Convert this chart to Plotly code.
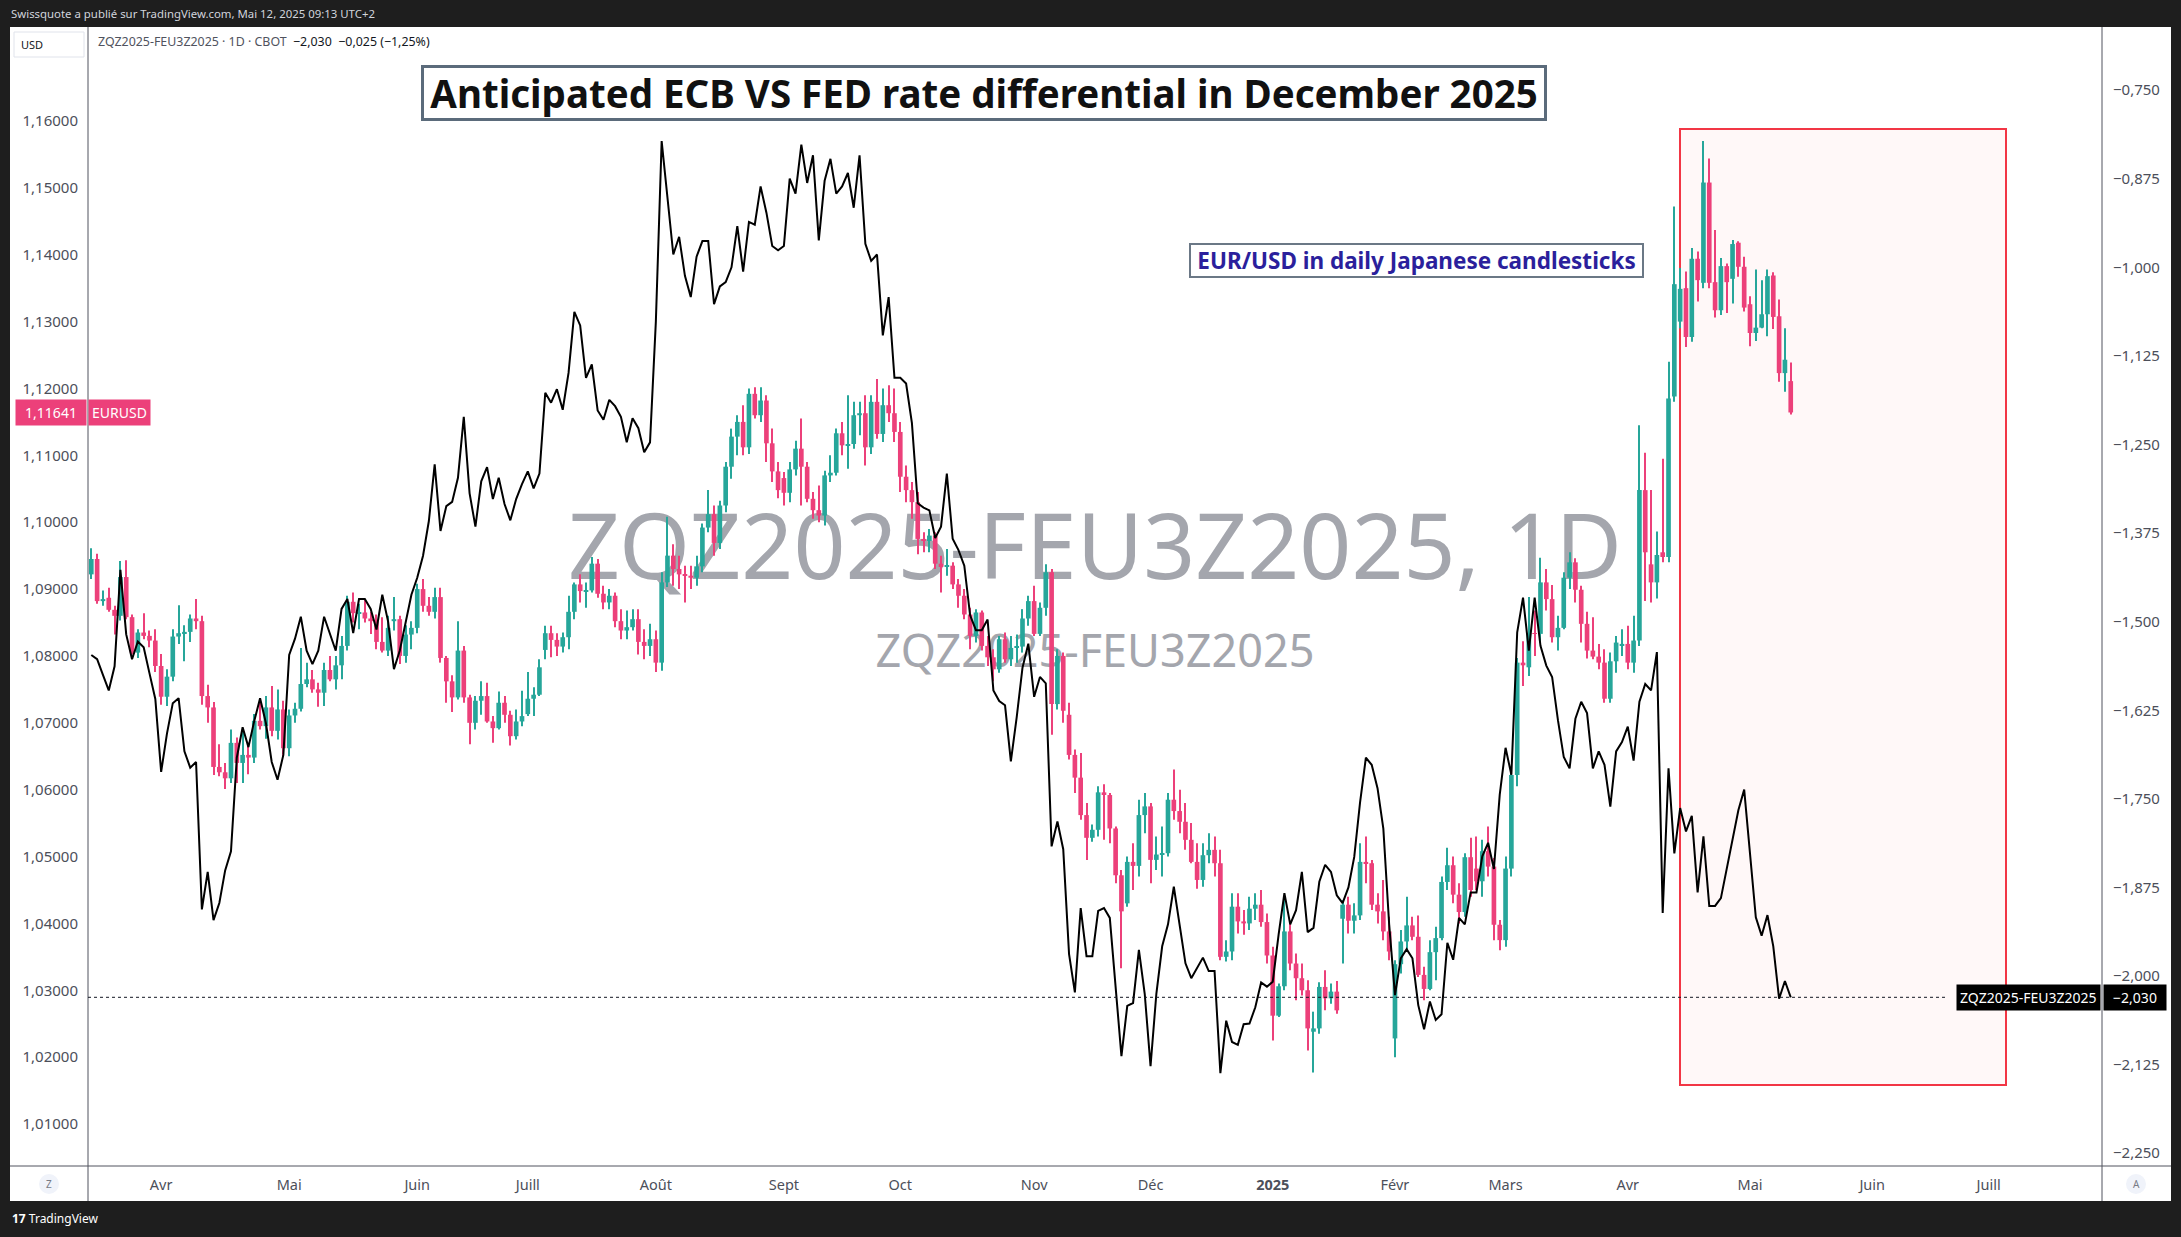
import pandas as pd
import plotly.graph_objects as go

# ---------------- data ----------------
holidays = ["2024-03-29", "2024-05-27", "2024-06-19", "2024-07-04", "2024-09-02",
            "2024-11-28", "2024-12-25", "2025-01-01", "2025-01-20", "2025-02-17",
            "2025-04-18", "2025-05-26", "2025-06-19", "2025-07-04"]

eur_open = [
 1.0922,1.0945,1.0882,1.0887,1.0869,1.0860,1.0918,1.0858,1.0805,1.0835,
 1.0830,1.0823,1.0785,1.0739,1.0769,1.0829,1.0834,1.0836,1.0856,1.0852,
 1.0740,1.0723,1.0634,1.0626,1.0617,1.0670,1.0640,1.0652,1.0648,1.0703,
 1.0695,1.0723,1.0688,1.0720,1.0662,1.0711,1.0721,1.0758,1.0765,1.0750,
 1.0745,1.0779,1.0765,1.0786,1.0815,1.0881,1.0864,1.0865,1.0856,1.0852,
 1.0821,1.0808,1.0852,1.0855,1.0800,1.0832,1.0842,1.0900,1.0875,1.0866,
 1.0888,1.0797,1.0762,1.0738,1.0808,1.0738,1.0700,1.0733,1.0740,1.0702,
 1.0692,1.0730,1.0712,1.0680,1.0702,1.0713,1.0736,1.0742,1.0809,1.0834,
 1.0824,1.0814,1.0828,1.0866,1.0907,1.0897,1.0898,1.0938,1.0893,1.0880,
 1.0890,1.0852,1.0838,1.0843,1.0855,1.0821,1.0815,1.0825,1.0790,1.0910,
 1.0950,1.0930,1.0922,1.0920,1.0917,1.0934,1.0992,1.1012,1.0969,1.1025,
 1.1083,1.1128,1.1150,1.1112,1.1192,1.1160,1.1182,1.1118,1.1076,1.1066,
 1.1044,1.1079,1.1110,1.1083,1.1035,1.1018,1.1010,1.1070,1.1074,1.1133,
 1.1115,1.1117,1.1160,1.1163,1.1112,1.1180,1.1132,1.1175,1.1163,1.1135,
 1.1068,1.1048,1.1030,1.0975,1.0972,1.0980,1.0938,1.0933,1.0935,1.0907,
 1.0890,1.0862,1.0830,1.0865,1.0815,1.0798,1.0780,1.0825,1.0795,1.0812,
 1.0814,1.0856,1.0882,1.0833,1.0872,1.0925,1.0728,1.0800,1.0712,1.0652,
 1.0618,1.0562,1.0528,1.0540,1.0596,1.0592,1.0542,1.0472,1.0430,1.0492,
 1.0486,1.0562,1.0575,1.0495,1.0503,1.0505,1.0585,1.0568,1.0552,1.0525,
 1.0492,1.0465,1.0502,1.0510,1.0490,1.0350,1.0358,1.0425,1.0403,1.0400,
 1.0422,1.0428,1.0402,1.0352,1.0262,1.0306,1.0388,1.0340,1.0318,1.0300,
 1.0238,1.0243,1.0305,1.0288,1.0298,1.0407,1.0428,1.0404,1.0412,1.0492,
 1.0490,1.0428,1.0418,1.0388,1.0228,1.0339,1.0373,1.0397,1.0380,1.0323,
 1.0302,1.0357,1.0378,1.0462,1.0487,1.0443,1.0417,1.0499,1.0482,1.0463,
 1.0508,1.0485,1.0398,1.0375,1.0482,1.0622,1.0790,1.0783,1.0834,1.0833,
 1.0910,1.0885,1.0828,1.0842,1.0917,1.0940,1.0899,1.0848,1.0808,1.0799,
 1.0790,1.0736,1.0792,1.0816,1.0818,1.0790,1.0823,1.1048,1.0937,1.0910,
 1.0955,1.0948,1.1188,1.1300,1.1350,1.1277,1.1394,1.1358,1.1508,1.1359,
 1.1317,1.1383,1.1364,1.1418,1.1382,1.1326,1.1283,1.1291,1.1311,1.1369,
 1.1308,1.1223,1.1211]

eur_high = [
 1.0961,1.0953,1.0898,1.0902,1.0875,1.0942,1.0943,1.0862,1.0840,1.0864,
 1.0838,1.0840,1.0803,1.0780,1.0840,1.0876,1.0846,1.0862,1.0885,1.0860,
 1.0757,1.0731,1.0668,1.0640,1.0690,1.0678,1.0690,1.0670,1.0713,1.0730,
 1.0740,1.0755,1.0750,1.0733,1.0720,1.0730,1.0812,1.0790,1.0779,1.0760,
 1.0790,1.0800,1.0800,1.0830,1.0890,1.0895,1.0878,1.0885,1.0866,1.0862,
 1.0858,1.0860,1.0888,1.0860,1.0846,1.0852,1.0908,1.0915,1.0888,1.0902,
 1.0902,1.0800,1.0771,1.0852,1.0815,1.0742,1.0740,1.0762,1.0760,1.0710,
 1.0747,1.0740,1.0718,1.0720,1.0748,1.0776,1.0753,1.0795,1.0845,1.0845,
 1.0834,1.0835,1.0890,1.0910,1.0922,1.0910,1.0948,1.0945,1.0905,1.0900,
 1.0895,1.0870,1.0868,1.0870,1.0870,1.0840,1.0848,1.0838,1.0925,1.1008,
 1.0967,1.0950,1.0935,1.0935,1.0950,1.0998,1.1048,1.1025,1.1032,1.1090,
 1.1140,1.1160,1.1175,1.1200,1.1202,1.1202,1.1190,1.1140,1.1090,1.1075,
 1.1090,1.1122,1.1155,1.1090,1.1045,1.1055,1.1077,1.1100,1.1140,1.1150,
 1.1190,1.1180,1.1180,1.1190,1.1190,1.1214,1.1200,1.1205,1.1200,1.1150,
 1.1085,1.1060,1.1045,1.0985,1.0990,1.0985,1.0950,1.0960,1.0940,1.0915,
 1.0900,1.0872,1.0870,1.0868,1.0830,1.0810,1.0830,1.0835,1.0830,1.0832,
 1.0870,1.0890,1.0905,1.0880,1.0937,1.0930,1.0810,1.0805,1.0730,1.0660,
 1.0655,1.0580,1.0548,1.0605,1.0608,1.0595,1.0545,1.0480,1.0500,1.0520,
 1.0585,1.0595,1.0580,1.0530,1.0545,1.0595,1.0630,1.0600,1.0580,1.0550,
 1.0520,1.0520,1.0535,1.0530,1.0510,1.0375,1.0445,1.0445,1.0420,1.0440,
 1.0445,1.0450,1.0415,1.0365,1.0310,1.0440,1.0400,1.0355,1.0340,1.0315,
 1.0268,1.0312,1.0330,1.0310,1.0314,1.0435,1.0440,1.0430,1.0520,1.0530,
 1.0495,1.0445,1.0465,1.0410,1.0345,1.0390,1.0440,1.0410,1.0412,1.0335,
 1.0375,1.0395,1.0470,1.0513,1.0500,1.0460,1.0505,1.0528,1.0530,1.0525,
 1.0545,1.0498,1.0405,1.0500,1.0630,1.0797,1.0822,1.0888,1.0868,1.0947,
 1.0930,1.0906,1.0860,1.0925,1.0955,1.0946,1.0905,1.0866,1.0858,1.0818,
 1.0810,1.0805,1.0830,1.0840,1.0845,1.0860,1.1145,1.1104,1.1048,1.0986,
 1.1095,1.1240,1.1472,1.1380,1.1375,1.1410,1.1405,1.1570,1.1544,1.1437,
 1.1395,1.1387,1.1422,1.1420,1.1397,1.1338,1.1378,1.1362,1.1378,1.1374,
 1.1333,1.1290,1.1239]

eur_low = [
 1.0915,1.0878,1.0875,1.0866,1.0832,1.0853,1.0855,1.0802,1.0797,1.0825,
 1.0813,1.0776,1.0727,1.0725,1.0762,1.0818,1.0792,1.0821,1.0840,1.0727,
 1.0700,1.0622,1.0620,1.0601,1.0610,1.0610,1.0610,1.0623,1.0640,1.0690,
 1.0676,1.0680,1.0675,1.0650,1.0650,1.0700,1.0717,1.0753,1.0745,1.0724,
 1.0725,1.0762,1.0750,1.0765,1.0808,1.0850,1.0840,1.0850,1.0833,1.0810,
 1.0805,1.0800,1.0838,1.0788,1.0790,1.0810,1.0834,1.0866,1.0860,1.0856,
 1.0790,1.0730,1.0716,1.0735,1.0730,1.0668,1.0690,1.0712,1.0700,1.0670,
 1.0690,1.0700,1.0666,1.0675,1.0695,1.0710,1.0710,1.0740,1.0795,1.0798,
 1.0800,1.0805,1.0810,1.0855,1.0880,1.0872,1.0895,1.0887,1.0870,1.0870,
 1.0843,1.0825,1.0825,1.0838,1.0802,1.0795,1.0800,1.0776,1.0778,1.0903,
 1.0905,1.0900,1.0880,1.0900,1.0905,1.0925,1.0985,1.0950,1.0960,1.1015,
 1.1065,1.1100,1.1100,1.1102,1.1155,1.1150,1.1090,1.1060,1.1036,1.1025,
 1.1030,1.1070,1.1025,1.1030,1.1005,1.1000,1.0995,1.1060,1.1070,1.1100,
 1.1080,1.1110,1.1130,1.1085,1.1102,1.1125,1.1120,1.1150,1.1120,1.1045,
 1.1030,1.1005,1.0952,1.0955,1.0955,1.0930,1.0895,1.0920,1.0900,1.0872,
 1.0855,1.0810,1.0820,1.0808,1.0785,1.0762,1.0775,1.0790,1.0785,1.0790,
 1.0805,1.0845,1.0830,1.0830,1.0860,1.0682,1.0720,1.0700,1.0645,1.0595,
 1.0555,1.0495,1.0522,1.0530,1.0525,1.0520,1.0460,1.0333,1.0425,1.0450,
 1.0470,1.0535,1.0460,1.0480,1.0470,1.0500,1.0555,1.0535,1.0510,1.0490,
 1.0452,1.0455,1.0490,1.0470,1.0345,1.0343,1.0345,1.0385,1.0383,1.0390,
 1.0405,1.0395,1.0340,1.0225,1.0260,1.0300,1.0330,1.0285,1.0292,1.0210,
 1.0177,1.0235,1.0270,1.0280,1.0265,1.0340,1.0385,1.0385,1.0405,1.0460,
 1.0420,1.0400,1.0375,1.0345,1.0200,1.0325,1.0360,1.0375,1.0320,1.0285,
 1.0300,1.0315,1.0375,1.0450,1.0430,1.0400,1.0410,1.0440,1.0450,1.0440,
 1.0470,1.0375,1.0360,1.0365,1.0470,1.0605,1.0755,1.0770,1.0800,1.0820,
 1.0868,1.0820,1.0808,1.0840,1.0900,1.0880,1.0820,1.0796,1.0795,1.0780,
 1.0730,1.0730,1.0775,1.0800,1.0780,1.0775,1.0815,1.0882,1.0880,1.0886,
 1.0940,1.0940,1.1180,1.1290,1.1262,1.1270,1.1330,1.1350,1.1350,1.1306,
 1.1310,1.1313,1.1327,1.1367,1.1315,1.1263,1.1271,1.1290,1.1278,1.1289,
 1.1210,1.1195,1.1161]

eur_close = [
 1.0945,1.0882,1.0885,1.0869,1.0860,1.0918,1.0858,1.0805,1.0835,1.0830,
 1.0823,1.0785,1.0739,1.0769,1.0829,1.0834,1.0836,1.0856,1.0852,1.0740,
 1.0723,1.0634,1.0626,1.0617,1.0670,1.0640,1.0652,1.0648,1.0703,1.0695,
 1.0723,1.0688,1.0720,1.0662,1.0711,1.0721,1.0758,1.0765,1.0750,1.0745,
 1.0779,1.0765,1.0786,1.0815,1.0881,1.0864,1.0865,1.0856,1.0852,1.0821,
 1.0808,1.0842,1.0855,1.0800,1.0832,1.0842,1.0900,1.0875,1.0866,1.0888,
 1.0797,1.0762,1.0738,1.0808,1.0738,1.0700,1.0733,1.0740,1.0702,1.0692,
 1.0730,1.0712,1.0680,1.0702,1.0710,1.0736,1.0742,1.0783,1.0834,1.0824,
 1.0814,1.0828,1.0866,1.0907,1.0897,1.0898,1.0938,1.0893,1.0880,1.0890,
 1.0852,1.0838,1.0843,1.0855,1.0821,1.0815,1.0825,1.0790,1.0910,1.0950,
 1.0930,1.0922,1.0920,1.0917,1.0934,1.0992,1.1012,1.0969,1.1025,1.1083,
 1.1128,1.1150,1.1112,1.1192,1.1160,1.1182,1.1118,1.1076,1.1048,1.1044,
 1.1079,1.1110,1.1083,1.1035,1.1018,1.1010,1.1070,1.1074,1.1133,1.1115,
 1.1117,1.1160,1.1163,1.1112,1.1180,1.1132,1.1175,1.1163,1.1135,1.1068,
 1.1048,1.1030,1.0975,1.0972,1.0980,1.0938,1.0933,1.0936,1.0907,1.0890,
 1.0862,1.0830,1.0865,1.0815,1.0798,1.0780,1.0825,1.0795,1.0812,1.0814,
 1.0856,1.0882,1.0833,1.0872,1.0925,1.0728,1.0800,1.0718,1.0652,1.0618,
 1.0562,1.0528,1.0540,1.0596,1.0592,1.0542,1.0472,1.0418,1.0492,1.0486,
 1.0562,1.0575,1.0495,1.0503,1.0505,1.0585,1.0568,1.0552,1.0525,1.0492,
 1.0465,1.0502,1.0510,1.0490,1.0350,1.0358,1.0425,1.0403,1.0400,1.0422,
 1.0428,1.0402,1.0352,1.0262,1.0306,1.0388,1.0340,1.0318,1.0300,1.0243,
 1.0243,1.0305,1.0288,1.0298,1.0270,1.0428,1.0404,1.0412,1.0492,1.0490,
 1.0428,1.0418,1.0388,1.0358,1.0339,1.0373,1.0397,1.0380,1.0323,1.0302,
 1.0357,1.0378,1.0462,1.0487,1.0443,1.0417,1.0499,1.0450,1.0463,1.0508,
 1.0485,1.0398,1.0375,1.0482,1.0622,1.0790,1.0786,1.0834,1.0833,1.0910,
 1.0885,1.0828,1.0842,1.0917,1.0940,1.0899,1.0848,1.0808,1.0799,1.0790,
 1.0736,1.0792,1.0820,1.0818,1.0790,1.0823,1.1048,1.0955,1.0910,1.0951,
 1.0948,1.1185,1.1356,1.1349,1.1277,1.1394,1.1362,1.1508,1.1358,1.1317,
 1.1383,1.1359,1.1416,1.1382,1.1321,1.1283,1.1291,1.1311,1.1368,1.1307,
 1.1223,1.1243,1.11641]

spread = [
 -1.547,-1.553,-1.575,-1.597,-1.563,-1.427,-1.518,-1.553,-1.528,-1.536,
 -1.573,-1.609,-1.712,-1.658,-1.615,-1.608,-1.683,-1.706,-1.698,-1.906,
 -1.853,-1.921,-1.897,-1.851,-1.824,-1.692,-1.649,-1.677,-1.640,-1.608,
 -1.643,-1.698,-1.723,-1.688,-1.547,-1.524,-1.493,-1.541,-1.560,-1.541,
 -1.493,-1.516,-1.541,-1.482,-1.468,-1.516,-1.468,-1.468,-1.482,-1.511,
 -1.462,-1.500,-1.567,-1.541,-1.499,-1.462,-1.438,-1.407,-1.358,-1.278,
 -1.372,-1.337,-1.331,-1.297,-1.211,-1.319,-1.366,-1.302,-1.282,-1.327,
 -1.297,-1.334,-1.357,-1.327,-1.306,-1.288,-1.312,-1.291,-1.177,-1.191,
 -1.172,-1.201,-1.149,-1.063,-1.082,-1.156,-1.137,-1.202,-1.215,-1.187,
 -1.196,-1.211,-1.247,-1.213,-1.227,-1.261,-1.247,-1.077,-0.822,-0.902,
 -0.982,-0.957,-1.012,-1.042,-0.985,-0.963,-0.963,-1.052,-1.027,-1.021,
 -1.000,-0.942,-1.006,-0.936,-0.940,-0.886,-0.923,-0.970,-0.976,-0.970,
 -0.875,-0.896,-0.827,-0.881,-0.842,-0.962,-0.878,-0.847,-0.896,-0.886,
 -0.867,-0.916,-0.842,-0.967,-0.991,-0.982,-1.096,-1.042,-1.156,-1.156,
 -1.164,-1.220,-1.333,-1.339,-1.343,-1.382,-1.366,-1.291,-1.383,-1.399,
 -1.421,-1.491,-1.512,-1.512,-1.497,-1.597,-1.612,-1.618,-1.697,-1.635,
 -1.565,-1.531,-1.606,-1.578,-1.587,-1.817,-1.782,-1.821,-1.969,-2.023,
 -1.904,-1.972,-1.972,-1.908,-1.904,-1.918,-2.015,-2.113,-2.042,-2.038,
 -1.963,-2.025,-2.127,-2.025,-1.958,-1.927,-1.874,-1.926,-1.982,-2.003,
 -1.989,-1.974,-1.993,-1.993,-2.137,-2.063,-2.093,-2.097,-2.068,-2.067,
 -2.044,-2.009,-2.015,-2.008,-1.942,-1.883,-1.927,-1.907,-1.853,-1.938,
 -1.932,-1.867,-1.843,-1.853,-1.886,-1.897,-1.875,-1.832,-1.755,-1.692,
 -1.702,-1.735,-1.792,-1.927,-2.027,-1.975,-1.962,-1.975,-2.041,-2.075,
 -2.036,-2.062,-2.054,-1.953,-1.977,-1.918,-1.927,-1.882,-1.882,-1.831,
 -1.812,-1.849,-1.744,-1.678,-1.716,-1.515,-1.466,-1.541,-1.466,-1.534,
 -1.562,-1.578,-1.639,-1.691,-1.707,-1.637,-1.613,-1.629,-1.707,-1.683,
 -1.702,-1.761,-1.683,-1.670,-1.648,-1.696,-1.613,-1.588,-1.597,-1.543,
 -1.911,-1.707,-1.827,-1.763,-1.796,-1.774,-1.882,-1.803,-1.901,-1.901,
 -1.890,-1.849,-1.807,-1.766,-1.737,-1.827,-1.917,-1.943,-1.914,-1.958,
 -2.032,-2.007,-2.030]

month_keys = ["2024-04", "2024-05", "2024-06", "2024-07", "2024-08", "2024-09",
              "2024-10", "2024-11", "2024-12", "2025-01", "2025-02", "2025-03",
              "2025-04", "2025-05", "2025-06", "2025-07"]
month_labels = ["Avr", "Mai", "Juin", "Juill", "Août", "Sept", "Oct", "Nov",
                "Déc", "<b>2025</b>", "Févr", "Mars", "Avr", "Mai", "Juin", "Juill"]

left_ticks = [1.01, 1.02, 1.03, 1.04, 1.05, 1.06, 1.07, 1.08, 1.09, 1.10,
              1.11, 1.12, 1.13, 1.14, 1.15, 1.16]
right_ticks = [-0.75, -0.875, -1.0, -1.125, -1.25, -1.375, -1.5, -1.625,
               -1.75, -1.875, -2.0, -2.125, -2.25]

# ---------------- helpers ----------------
W, H = 2181, 1237
L, R, T, B = 88, 2102, 27, 1166


def px(x):
    return (x - L) / (R - L)


def py(y):
    return (B - y) / (B - T)


days = [d for d in pd.bdate_range("2024-03-13", "2025-09-30")
        if d.strftime("%Y-%m-%d") not in holidays]
dates = [d.strftime("%Y-%m-%d") for d in days]
n = len(eur_close)
xs = dates[:n]
tickvals = [next(d for d in dates if d.startswith(k)) for k in month_keys]

UP, DOWN = "#26a69a", "#ec407a"
FONT = "Noto Sans"
TXT = "#4c4f5a"

colors = [UP if c >= o else DOWN for o, c in zip(eur_open, eur_close)]
body_base = [min(o, c) for o, c in zip(eur_open, eur_close)]
body_len = [max(abs(c - o), 0.00013) for o, c in zip(eur_open, eur_close)]
wick_len = [h - l for h, l in zip(eur_high, eur_low)]

fig = go.Figure()
# wicks
fig.add_trace(go.Bar(
    x=xs, y=wick_len, base=eur_low, width=0.18,
    marker=dict(color=colors, line=dict(width=0)),
    hoverinfo="skip", showlegend=False, yaxis="y"))
# bodies
fig.add_trace(go.Bar(
    x=xs, y=body_len, base=body_base, width=0.8,
    marker=dict(color=colors, line=dict(width=0)),
    hoverinfo="skip", showlegend=False, yaxis="y"))
# spread line
fig.add_trace(go.Scatter(
    x=xs, y=spread, mode="lines", line=dict(color="#000000", width=2),
    hoverinfo="skip", showlegend=False, yaxis="y2"))


def fmt_minus(v, d):
    s = f"{abs(v):.{d}f}".replace(".", ",")
    return ("\u2212" + s) if v < 0 else s


shapes = []
annotations = []

# dark frame
for (x0, y0, x1, y1) in [(0, 0, W, T), (0, 1201, W, H), (0, 0, 10, H), (2171, 0, W, H)]:
    shapes.append(dict(type="rect", xref="paper", yref="paper", x0=px(x0), x1=px(x1),
                       y0=py(y1), y1=py(y0), fillcolor="#1e1e1e", line=dict(width=0),
                       layer="above"))
# panel separators
sep = "#50535e"
shapes += [
    dict(type="line", xref="paper", yref="paper", x0=px(10), x1=px(2171), y0=py(B), y1=py(B),
         line=dict(color=sep, width=1)),
    dict(type="line", xref="paper", yref="paper", x0=px(L), x1=px(L), y0=py(T), y1=py(1201),
         line=dict(color=sep, width=1)),
    dict(type="line", xref="paper", yref="paper", x0=px(R), x1=px(R), y0=py(T), y1=py(1201),
         line=dict(color=sep, width=1)),
]
# red highlight rectangle
shapes.append(dict(type="rect", xref="paper", yref="paper", x0=px(1680), x1=px(2006),
                   y0=py(1085), y1=py(129), line=dict(color="#f23645", width=2),
                   fillcolor="rgba(242,54,69,0.035)", layer="below"))
# watermarks (behind the series)
shapes.append(dict(type="rect", xref="paper", yref="paper", x0=px(400), x1=px(1790),
                   y0=py(600), y1=py(500), line=dict(width=0), fillcolor="rgba(0,0,0,0)",
                   layer="below",
                   label=dict(text="ZQZ2025-FEU3Z2025, 1D", textposition="middle center",
                              font=dict(family=FONT, size=91, color="#a4a6ad"))))
shapes.append(dict(type="rect", xref="paper", yref="paper", x0=px(700), x1=px(1490),
                   y0=py(675), y1=py(630), line=dict(width=0), fillcolor="rgba(0,0,0,0)",
                   layer="below",
                   label=dict(text="ZQZ2025-FEU3Z2025", textposition="middle center",
                              font=dict(family=FONT, size=45, color="#a4a6ad"))))
# last value dotted line
shapes.append(dict(type="line", xref="paper", yref="y2", x0=0, x1=px(1945),
                   y0=spread[-1], y1=spread[-1], line=dict(color="#131722", width=1, dash="dot")))
# USD box
shapes.append(dict(type="rect", xref="paper", yref="paper", x0=px(14), x1=px(84),
                   y0=py(57), y1=py(32), line=dict(color="#e0e3eb", width=1),
                   fillcolor="#ffffff", layer="above"))
# corner circles
for cx in (49, 2136):
    shapes.append(dict(type="circle", xref="paper", yref="paper", x0=px(cx - 10), x1=px(cx + 10),
                       y0=py(1194), y1=py(1174), line=dict(width=0), fillcolor="#f0f3fa",
                       layer="above"))

# texts
annotations += [
    dict(xref="paper", yref="paper", x=px(9), y=py(14), xanchor="left", yanchor="middle",
         text="Swissquote a publié sur TradingView.com, Mai 12, 2025 09:13 UTC+2",
         showarrow=False, font=dict(family=FONT, size=11.4, color="#d1d4dc")),
    dict(xref="paper", yref="paper", x=px(10), y=py(1218), xanchor="left", yanchor="middle",
         text="<b>17</b> TradingView", showarrow=False,
         font=dict(family=FONT, size=12, color="#ffffff")),
    dict(xref="paper", yref="paper", x=px(19), y=py(44), xanchor="left", yanchor="middle",
         text="USD", showarrow=False, font=dict(family=FONT, size=11, color="#131722")),
    dict(xref="paper", yref="paper", x=px(96), y=py(42), xanchor="left", yanchor="middle",
         text="ZQZ2025-FEU3Z2025 · 1D · CBOT  <span style='color:#131722'>\u22122,030  \u22120,025 (\u22121,25%)</span>",
         showarrow=False, font=dict(family=FONT, size=12.4, color="#50535e")),
    dict(xref="paper", yref="paper", x=px(49), y=py(1184), xanchor="center", yanchor="middle",
         text="Z", showarrow=False, font=dict(family=FONT, size=10, color="#787b86")),
    dict(xref="paper", yref="paper", x=px(2136), y=py(1184), xanchor="center", yanchor="middle",
         text="A", showarrow=False, font=dict(family=FONT, size=10, color="#787b86")),
    # title box
    dict(xref="paper", yref="paper", x=px(984), y=py(93), xanchor="center", yanchor="middle",
         text="<b>Anticipated ECB VS FED rate differential in December 2025</b>",
         showarrow=False, width=1120, height=50, borderpad=0, borderwidth=3,
         bordercolor="#5b6b7b", bgcolor="#ffffff",
         font=dict(family=FONT, size=38.5, color="#111111")),
    # subtitle box
    dict(xref="paper", yref="paper", x=px(1416), y=py(260.5), xanchor="center", yanchor="middle",
         text="<b>EUR/USD in daily Japanese candlesticks</b>",
         showarrow=False, width=451, height=31, borderpad=0, borderwidth=2,
         bordercolor="#6b7886", bgcolor="#ffffff",
         font=dict(family=FONT, size=22.5, color="#2b1f9c")),
    # price labels
    dict(xref="paper", yref="y2", x=px(R + 1), y=spread[-1], xanchor="left", yanchor="middle",
         text=fmt_minus(spread[-1], 3), showarrow=False, bgcolor="#000000", borderpad=3,
         width=56, font=dict(family=FONT, size=14, color="#ffffff")),
    dict(xref="paper", yref="y2", x=px(R - 1), y=spread[-1], xanchor="right", yanchor="middle",
         text="ZQZ2025-FEU3Z2025", showarrow=False, bgcolor="#000000", borderpad=3,
         font=dict(family=FONT, size=14, color="#ffffff")),
    dict(xref="paper", yref="y", x=px(L - 1), y=eur_close[-1], xanchor="right", yanchor="middle",
         text=f"{eur_close[-1]:.5f}".replace(".", ","), showarrow=False, bgcolor=DOWN,
         borderpad=3, width=64, font=dict(family=FONT, size=14, color="#ffffff")),
    dict(xref="paper", yref="y", x=px(L), y=eur_close[-1], xanchor="left", yanchor="middle",
         text="EURUSD", showarrow=False, bgcolor=DOWN, borderpad=3,
         font=dict(family=FONT, size=14, color="#ffffff")),
]

fig.update_layout(
    width=W, height=H, autosize=False,
    margin=dict(l=L, r=W - R, t=T, b=H - B, pad=0),
    paper_bgcolor="#ffffff", plot_bgcolor="rgba(0,0,0,0)",
    separators=", ",
    showlegend=False,
    barmode="overlay",
    xaxis=dict(type="category", categoryorder="array", categoryarray=dates,
               range=[(L - (91.3)) / 5.82, (R - 91.3) / 5.82],
               tickmode="array", tickvals=tickvals, ticktext=month_labels,
               showgrid=False, zeroline=False, showline=False, ticks="",
               fixedrange=True,
               tickfont=dict(family=FONT, size=14.5, color=TXT), ticklabelstandoff=8),
    yaxis=dict(range=[1.00372, 1.17406], tickmode="array", tickvals=left_ticks,
               tickformat=".5f", showgrid=False, zeroline=False, showline=False,
               ticks="", side="left", ticklabelstandoff=9,
               tickfont=dict(family=FONT, size=15, color=TXT)),
    yaxis2=dict(range=[-2.268, -0.661], overlaying="y", side="right", tickmode="array",
                tickvals=right_ticks, tickformat=".3f", showgrid=False, zeroline=False,
                showline=False, ticks="", ticklabelstandoff=10,
                tickfont=dict(family=FONT, size=15, color=TXT)),
    shapes=shapes, annotations=annotations,
)

fig.write_html("out.html", config={"displayModeBar": False},
               post_script="document.body.style.margin='0';document.body.style.overflow='hidden';")
